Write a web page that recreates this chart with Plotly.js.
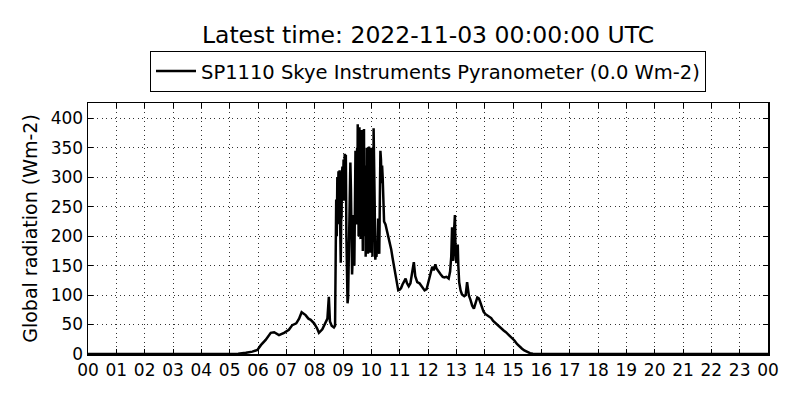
<!DOCTYPE html>
<html>
<head>
<meta charset="utf-8">
<script src="https://cdn.plot.ly/plotly-3.0.1.min.js"></script>
<style>html,body{margin:0;padding:0;background:#fff;}#chart{width:800px;height:400px;}</style>
</head>
<body>
<div id="chart"></div>
<script>
// Time of day (decimal hours, UTC) and global radiation (Wm-2)
const hours = [
  0.00, 5.00, 5.30, 5.57, 5.80, 5.98, 6.10, 6.27, 6.45, 6.57, 6.74, 6.92, 7.09, 7.21, 7.35, 7.45,
  7.54, 7.68, 7.78, 7.86, 7.98, 8.08, 8.15, 8.27, 8.39, 8.45, 8.50, 8.54, 8.60, 8.68, 8.72, 8.74,
  8.76, 8.77, 8.78, 8.79, 8.80, 8.81, 8.82, 8.83, 8.84, 8.85, 8.86, 8.87, 8.88, 8.89, 8.90, 8.91,
  8.92, 8.93, 8.94, 8.95, 8.96, 8.98, 9.00, 9.02, 9.04, 9.06,
  9.08, 9.10, 9.12, 9.14, 9.16, 9.18, 9.20, 9.22, 9.24, 9.26, 9.28, 9.30, 9.32, 9.34, 9.36, 9.38,
  9.40, 9.42,
  9.44, 9.45, 9.46, 9.47, 9.48, 9.49, 9.50, 9.51, 9.52, 9.53, 9.54, 9.55, 9.56, 9.57, 9.58, 9.59,
  9.60, 9.61, 9.62, 9.63, 9.64, 9.65, 9.66, 9.67, 9.68, 9.69, 9.70, 9.71, 9.72, 9.73, 9.74, 9.75,
  9.76, 9.77, 9.78, 9.79, 9.80, 9.81, 9.82, 9.83, 9.84, 9.85, 9.86, 9.87, 9.88, 9.89, 9.90, 9.91,
  9.92, 9.93, 9.94, 9.95, 9.96, 9.97, 9.98, 9.99, 10.00, 10.01, 10.02, 10.03, 10.04, 10.05, 10.06, 10.07,
  10.08, 10.09, 10.10, 10.11, 10.12, 10.13, 10.14,
  10.16, 10.18, 10.20, 10.22, 10.24, 10.26, 10.28, 10.30, 10.32, 10.34,
  10.36, 10.38, 10.40, 10.42, 10.45, 10.50, 10.55, 10.60, 10.65, 10.70, 10.75, 10.80, 10.85, 10.90, 10.95, 11.00,
  11.05, 11.10, 11.15, 11.21, 11.26, 11.32, 11.38, 11.45, 11.50, 11.55, 11.62, 11.70, 11.80, 11.88, 11.95, 12.02,
  12.10, 12.15, 12.20, 12.23, 12.26, 12.30, 12.38, 12.45, 12.52, 12.58, 12.65, 12.73, 12.78, 12.82, 12.85, 12.87,
  12.89, 12.92, 12.95, 12.97, 13.00, 13.03, 13.05, 13.07, 13.10, 13.15, 13.20, 13.28, 13.33, 13.38, 13.40, 13.44,
  13.50, 13.56, 13.62, 13.68, 13.74, 13.80, 13.86, 13.91, 13.96, 14.02, 14.09, 14.16, 14.23, 14.30, 14.37, 14.44,
  14.52, 14.60, 14.67, 14.75, 14.82, 14.90, 14.97, 15.05, 15.14, 15.22, 15.32, 15.40, 15.50, 15.60, 15.70, 15.85,
  24.00
];
const radiation = [
  0, 0, 0.5, 2, 4, 7, 15, 24, 36, 37, 32, 36, 41, 49, 52, 60,
  71, 66, 60, 58, 52, 44, 36, 42, 55, 60, 97, 55, 48, 45, 48, 120,
  262, 230, 200, 280, 300, 220, 240, 305, 310, 250, 270, 225, 312, 280, 220, 190,
  155, 200, 250, 230, 300, 318, 280, 330, 260, 340,
  300, 338, 200, 120, 86, 95, 150, 230, 300, 325, 280, 180, 135, 160, 236, 225,
  150, 260,
  345, 260, 300, 220, 240, 330, 350, 280, 390, 250, 330, 200, 250, 340, 385, 270,
  300, 230, 195, 280, 330, 240, 380, 300, 280, 220, 175, 300, 260, 350, 382, 250,
  300, 210, 200, 320, 165, 240, 280, 190, 350, 260, 320, 230, 170, 290, 250, 330,
  352, 220, 345, 260, 172, 250, 300, 200, 350, 280, 230, 320, 165, 240, 300, 210,
  383, 300, 370, 250, 250, 200, 160,
  170, 165, 175, 190, 230, 180, 170, 260, 345, 330,
  290, 320, 300, 250, 225, 220, 210, 202, 190, 178, 163, 150, 132, 118, 108, 109,
  112, 118, 124, 128, 120, 115, 120, 140, 156, 132, 122, 120, 113, 108, 110, 122,
  140, 148, 142, 150, 152, 145, 139, 135, 131, 130, 131, 128, 140, 165, 215, 170,
  158, 210, 236, 180, 154, 170, 186, 150, 122, 108, 101, 98, 100, 122, 112, 100,
  92, 82, 77, 88, 96, 94, 86, 80, 72, 68, 66, 64, 61, 56, 53, 50,
  45, 42, 40, 37, 34, 31, 28, 23, 17, 13, 9, 6, 3, 1.5, 0.5, 0,
  0
];
const hourTicks = [0,1,2,3,4,5,6,7,8,9,10,11,12,13,14,15,16,17,18,19,20,21,22,23,24];
const hourLabels = ["00","01","02","03","04","05","06","07","08","09","10","11","12","13","14","15","16","17","18","19","20","21","22","23","00"];
const seriesName = "SP1110 Skye Instruments Pyranometer (0.0 Wm-2)";
const chartTitle = "Latest time: 2022-11-03 00:00:00 UTC";
const yTitle = "Global radiation (Wm-2)";

const font = "DejaVu Sans, sans-serif";
const trace = {
  x: hours, y: radiation, type: "scatter", mode: "lines", name: seriesName,
  line: {color: "#000", width: 2.5}, showlegend: true
};
const axisCommon = {
  showline: true, linecolor: "#000", linewidth: 1.5, mirror: "ticks",
  ticks: "inside", ticklen: 5, tickwidth: 1, tickcolor: "#000",
  showgrid: true, gridcolor: "#000", gridwidth: 0.8, griddash: "1px,3.5px",
  zeroline: false, tickfont: {family: font, size: 17, color: "#000"}
};
const layout = {
  width: 800, height: 400,
  margin: {l: 88, r: 32, t: 103, b: 46, pad: 0},
  paper_bgcolor: "#fff", plot_bgcolor: "#fff",
  font: {family: font, color: "#000"},
  title: {text: chartTitle, x: 0.5, xref: "paper", xanchor: "center", y: 0.9125, yref: "container", yanchor: "middle",
          font: {family: font, size: 23.5, color: "#000"}},
  xaxis: Object.assign({}, axisCommon, {range: [0, 24], tickmode: "array", tickvals: hourTicks, ticktext: hourLabels}),
  yaxis: Object.assign({}, axisCommon, {range: [0, 426], tick0: 0, dtick: 50,
          title: {text: yTitle, font: {family: font, size: 19, color: "#000"}, standoff: 8}}),
  showlegend: true,
  legend: {x: 0.5, xanchor: "center", y: 1.208, yanchor: "top", orientation: "h", itemwidth: 40,
           bordercolor: "#000", borderwidth: 1, bgcolor: "#fff",
           font: {family: font, size: 19.5, color: "#000"}}
};
Plotly.newPlot("chart", [trace], layout, {displayModeBar: false, staticPlot: true});
</script>
</body>
</html>
